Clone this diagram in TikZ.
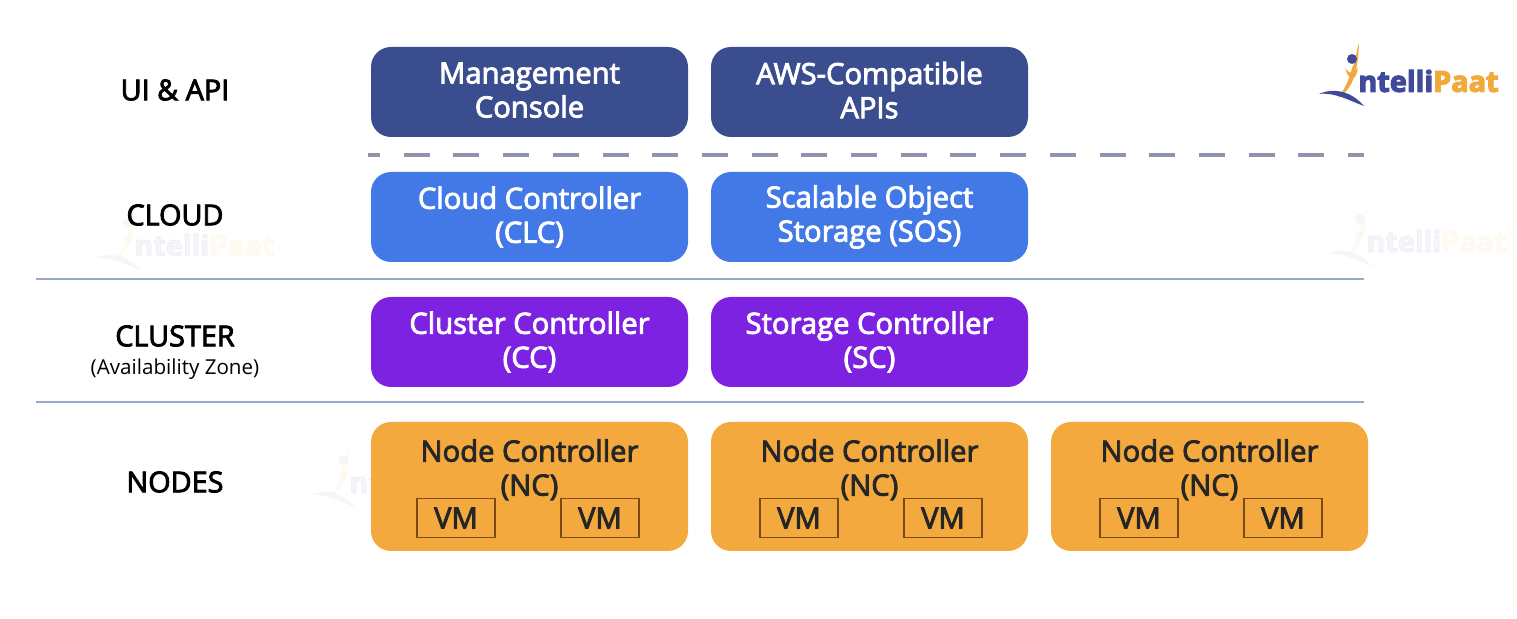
\documentclass[tikz,border=0pt]{standalone}
\usepackage{fontspec}
\setmainfont{Open Sans}
\newfontfamily\boxfont[FakeBold=3]{Open Sans}
\newfontfamily\logofont[FakeBold=4]{Open Sans}
\usetikzlibrary{positioning}
\definecolor{apiblue}{HTML}{3A4D8F}
\definecolor{cloudblue}{HTML}{4379E6}
\definecolor{clusterviolet}{HTML}{7E22E2}
\definecolor{nodeorange}{HTML}{F4A93F}
\definecolor{vmline}{HTML}{7A4A14}
\definecolor{ruleblue}{HTML}{9AA5CB}
\definecolor{dashgrey}{HTML}{9093B0}
\definecolor{logoblue}{HTML}{3F4A9A}
\definecolor{logoorange}{HTML}{F2A93B}
\tikzset{
	logomark/.pic = {
		\node[inner sep=0pt, anchor=west, font=\logofont\bfseries\fontsize{14.4}{15}\selectfont, text=logoblue] (-word) at (39,37) {ntelli\textcolor{logoorange}{Paat}};
		\fill[logoorange] (40,-1) .. controls (39,26) and (35,44) .. (19,54) .. controls (27,44) and (31,32) .. (33,24) .. controls (37,18) and (37,8) .. (40,-1) -- cycle;
		\fill[logoorange] (26,24) .. controls (30,30) and (34,30) .. (39,24) .. controls (37,36) and (31,40) .. (26,24) -- cycle;
		\fill[logoblue] (33,15) circle (5);
		\fill[logoblue] (0,50) .. controls (16,43) and (33,48) .. (45,62) .. controls (31,57) and (16,48) .. (0,50) -- cycle;
	}
}

\begin{document}
\begin{tikzpicture}[x=0.5pt, y=-0.5pt, node distance=17.5pt and 11.5pt,
	layer/.style = {draw=none, outer sep=0pt, rounded corners=10pt, minimum width=158.5pt, minimum height=45pt, inner sep=0pt, align=center, text=white, font=\boxfont\fontsize{14.6}{17}\selectfont},
	nodebox/.style = {layer, fill=nodeorange, text=black!85, minimum height=64.5pt},
	vmbox/.style = {draw=vmline, line width=0.7pt, outer sep=0pt, minimum width=39pt, minimum height=19.5pt, inner sep=0pt, text=black!85, font=\boxfont\fontsize{14.6}{17}\selectfont},
	tier/.style = {align=center, inner sep=0pt, text=black, font=\boxfont\fontsize{14.4}{17}\selectfont},
	rule/.style = {ruleblue, line width=1.1pt},
	faint/.style = {opacity=0.05}]
\useasboundingbox (0,0) rectangle (1517,619);

\pic[faint] (mark a) at (95,208) {logomark};
\pic[faint] (mark b) at (1327,204) {logomark};
\pic[faint] (mark c) at (310,445) {logomark};

\node[layer, fill=apiblue, text depth=2pt]               (console) at (529.5,92) {Management\\Console};
\node[layer, fill=apiblue, text depth=2pt, right=of console] (apis) {AWS-Compatible\\APIs};
\node[layer, fill=cloudblue, below=of console]    (clc)     {Cloud Controller\\(CLC)};
\node[layer, fill=cloudblue, below=of apis]       (sos)     {Scalable Object\\Storage (SOS)};
\node[layer, fill=clusterviolet, below=of clc]    (cc)      {Cluster Controller\\(CC)};
\node[layer, fill=clusterviolet, below=of sos]    (sc)      {Storage Controller\\(SC)};
\node[nodebox, below=of cc]                       (nc 1)    {};
\node[nodebox, below=of sc]                       (nc 2)    {};
\node[nodebox, right=of nc 2]                     (nc 3)    {};

\foreach \n/\dx in {1/-0.75, 2/0.75, 3/0.75}{
	\node[align=center, text=black!85, font=\boxfont\fontsize{14.6}{17}\selectfont, below=8.5pt of nc \n.north, inner sep=0pt] (nc text \n) {Node Controller\\(NC)};
	\node[vmbox, anchor=south] (vm \n a) at ([xshift=-36pt+\dx pt, yshift=6.75pt]nc \n.south) {VM};
	\node[vmbox, anchor=south] (vm \n b) at ([xshift=36pt+\dx pt, yshift=6.75pt]nc \n.south) {VM};
}

\node[tier] (ui)      at (175,90)  {UI \& API};
\node[tier] (cloud)   at (175,215) {CLOUD};
\node[tier] (cluster) at (175,336) {CLUSTER};
\node[font=\fontsize{10.3}{12}\selectfont, below=5.5pt of cluster.south, inner sep=0pt] (zone) {(Availability Zone)};
\node[tier] (nodes)   at (175,482) {NODES};

\coordinate (dash l) at (368,155);
\coordinate (dash r) at (1364,155);
\coordinate (rule 1 l) at (36,279);
\coordinate (rule 1 r) at (1364,279);
\coordinate (rule 2 l) at (36,402);
\coordinate (rule 2 r) at (1364,402);
\draw[dashgrey, line width=1.6pt, dash pattern=on 13pt off 11.85pt, dash phase=7pt] (dash l) -- (dash r);
\draw[rule] (rule 1 l) -- (rule 1 r);
\draw[rule] (rule 2 l) -- (rule 2 r);

% logo
\pic (logo) at (1319,44) {logomark};
\end{tikzpicture}
\end{document}
